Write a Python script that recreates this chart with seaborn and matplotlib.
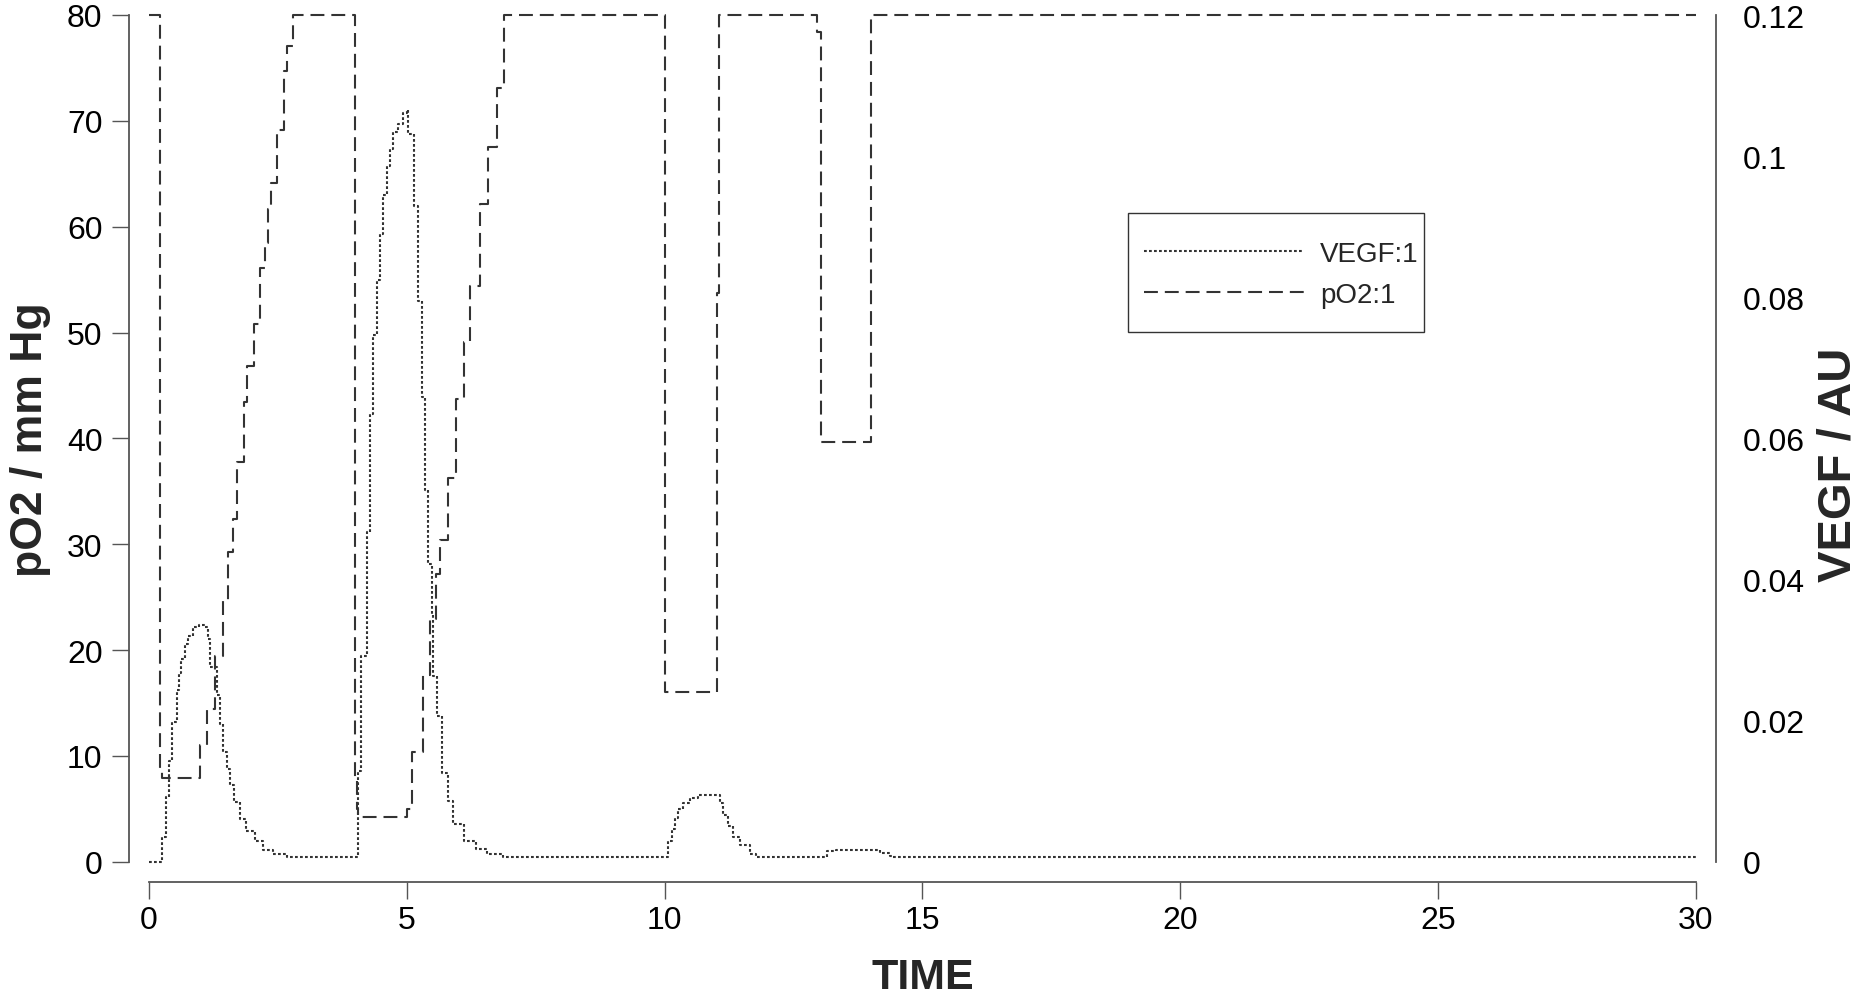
import matplotlib
matplotlib.use('Agg')
import matplotlib.pyplot as plt
from matplotlib.patches import Rectangle
from matplotlib.ticker import FuncFormatter
import pandas as pd
import seaborn as sns

# --- data (step samples: value holds until next time) ---
po2_time = [0.00, 0.21, 0.26,
            0.99, 1.12, 1.28, 1.43, 1.54, 1.62, 1.70, 1.84, 1.91, 2.04, 2.15,
            2.24, 2.31, 2.37, 2.49, 2.62, 2.68, 2.80,
            3.99, 4.03, 4.06,
            5.00, 5.10, 5.31, 5.45, 5.57, 5.64, 5.80, 5.95, 6.10, 6.22, 6.42,
            6.58, 6.74, 6.88,
            10.01, 11.01, 11.05, 12.95, 13.04, 14.01, 30.00]
po2_vals = [80, 8.8, 7.9,
            11.0, 14.4, 19.4, 24.7, 29.3, 32.4, 37.8, 43.4, 46.8, 50.8, 56.1,
            58.5, 61.7, 64.1, 69.1, 74.7, 77.1, 80,
            7.7, 5.0, 4.2,
            5.0, 10.4, 17.6, 22.9, 27.2, 30.4, 36.3, 43.7, 49.1, 54.4, 62.1,
            67.5, 73.1, 80,
            16.0, 53.7, 80, 78.4, 39.7, 80, 80]

vegf_time = [0.00, 0.25, 0.32, 0.38, 0.45, 0.54, 0.59, 0.63, 0.70, 0.76, 0.86,
             0.96, 1.09, 1.15, 1.18, 1.31, 1.38, 1.44, 1.51, 1.57, 1.64, 1.76,
             1.89, 2.06, 2.22, 2.41, 2.67,
             4.06, 4.12, 4.22, 4.29, 4.35, 4.42, 4.48, 4.54, 4.61, 4.67, 4.74,
             4.83, 4.93, 5.00, 5.03, 5.13, 5.22, 5.29, 5.35, 5.42, 5.48, 5.51,
             5.58, 5.68, 5.80, 5.90, 6.10, 6.35, 6.55, 6.87,
             10.07, 10.14, 10.20, 10.26, 10.36, 10.49, 10.65, 11.07, 11.14,
             11.23, 11.33, 11.46, 11.65, 11.78,
             13.14, 13.33, 14.17, 14.37, 14.43, 30.00]
vegf_vals = [0.0, 0.0035, 0.0092, 0.0143, 0.0198, 0.0243, 0.0267, 0.0287, 0.0308,
             0.0320, 0.0332, 0.0336, 0.0332, 0.0315, 0.0276, 0.0236, 0.0195,
             0.0156, 0.0132, 0.0108, 0.0084, 0.0060, 0.0044, 0.0029, 0.0017,
             0.0011, 0.0006,
             0.0128, 0.0291, 0.0467, 0.0635, 0.0746, 0.0825, 0.0890, 0.0945,
             0.0986, 0.1010, 0.1034, 0.1046, 0.1061, 0.1065, 0.1031, 0.0930,
             0.0794, 0.0659, 0.0527, 0.0422, 0.0350, 0.0263, 0.0206, 0.0126,
             0.0086, 0.0054, 0.0030, 0.0018, 0.0011, 0.0006,
             0.0030, 0.0047, 0.0062, 0.0074, 0.0083, 0.0090, 0.0095, 0.0083,
             0.0066, 0.0050, 0.0035, 0.0023, 0.0011, 0.0006,
             0.0015, 0.0017, 0.0012, 0.0008, 0.0006, 0.0006]

x_ticks = [0, 5, 10, 15, 20, 25, 30]
po2_ticks = [0, 10, 20, 30, 40, 50, 60, 70, 80]
vegf_ticks = [0, 0.02, 0.04, 0.06, 0.08, 0.10, 0.12]

# --- style ---
sns.set_style('ticks')
plt.rcParams['font.family'] = ['Liberation Sans', 'DejaVu Sans']
plt.rcParams['lines.scale_dashes'] = False
AX_COL = '#555555'
LINE_COL = '#333333'
plt.rcParams.update({
    'axes.edgecolor': AX_COL, 'axes.linewidth': 1.3,
    'xtick.color': AX_COL, 'ytick.color': AX_COL,
    'xtick.labelcolor': 'black', 'ytick.labelcolor': 'black',
    'xtick.major.size': 12, 'ytick.major.size': 12,
    'xtick.major.width': 1.0, 'ytick.major.width': 1.0,
    'xtick.major.pad': 5, 'ytick.major.pad': 7,
})

W, H = 1865, 995
fig = plt.figure(figsize=(W / 100, H / 100), dpi=100)
ax = fig.add_axes([149 / W, 1 - 862.7 / H, 1547 / W, 846.7 / H])
ax2 = ax.twinx()

df_po2 = pd.DataFrame({'time': po2_time, 'pO2': po2_vals})
df_vegf = pd.DataFrame({'time': vegf_time, 'VEGF': vegf_vals})

sns.lineplot(data=df_vegf, x='time', y='VEGF', ax=ax2, color=LINE_COL,
             linewidth=1.5, linestyle=(0, (2.0, 1.6)), drawstyle='steps-post',
             label='VEGF:1', clip_on=False, legend=False)
sns.lineplot(data=df_po2, x='time', y='pO2', ax=ax, color=LINE_COL,
             linewidth=1.5, linestyle=(0, (10, 5)), drawstyle='steps-post',
             label='pO2:1', clip_on=False, legend=False)

ax.set_xlim(0, 30)
ax.set_ylim(0, 80)
ax2.set_ylim(0, 0.12)
ax.set_xticks(x_ticks)
ax.set_yticks(po2_ticks)
ax2.set_yticks(vegf_ticks)
ax2.yaxis.set_major_formatter(FuncFormatter(lambda v, p: '%g' % round(v, 3)))
ax.tick_params(labelsize=23)
ax2.tick_params(labelsize=23)

sns.despine(ax=ax, offset=14.4, trim=True)
sns.despine(ax=ax2, left=True, bottom=True, right=False, offset=14.4, trim=True)

ax.set_xlabel('TIME', fontsize=31, fontweight='bold')
ax.set_ylabel('pO2 / mm Hg', fontsize=32, fontweight='bold', va='center')
ax2.set_ylabel('VEGF / AU', fontsize=34, fontweight='bold', va='center')
ax.xaxis.set_label_coords(0.5, -0.1126)
ax.yaxis.set_label_coords(-0.0763, 0.5)
ax2.yaxis.set_label_coords(1.0918, 0.47)

# legend: entries without frame, box drawn separately
for a in (ax, ax2):
    if a.get_legend() is not None:
        a.get_legend().remove()
handles = ax2.get_lines()[:1] + ax.get_lines()[:1]
fig.legend(handles, ['VEGF:1', 'pO2:1'], loc='center left',
           bbox_to_anchor=(1144 / W, 1 - 275.5 / H),
           bbox_transform=fig.transFigure, borderaxespad=0, borderpad=0,
           fontsize=20, handlelength=5.75, handletextpad=0.58,
           labelspacing=0.55, frameon=False)
fig.add_artist(Rectangle((1128 / W, 1 - 333 / H), 296 / W, 119 / H,
                         transform=fig.transFigure, fill=False,
                         edgecolor='#333333', linewidth=1.0))

fig.savefig('out.png', dpi=100)
